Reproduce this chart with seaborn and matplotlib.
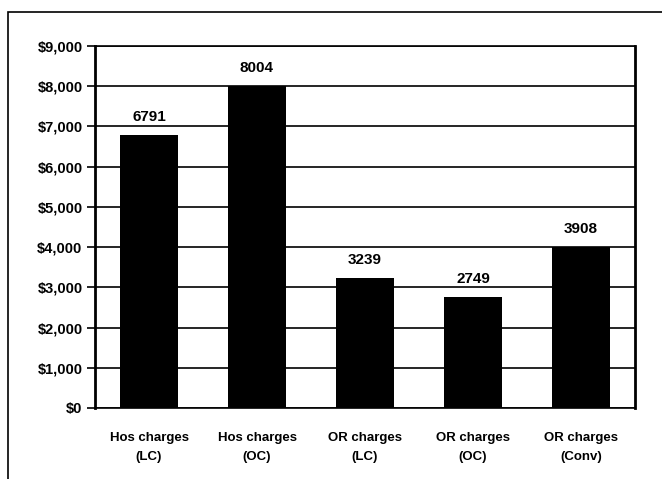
import matplotlib
matplotlib.use("Agg")
import matplotlib.pyplot as plt
import matplotlib.patches as patches
import seaborn as sns
import pandas as pd

categories = ["Hos charges\n(LC)", "Hos charges\n(OC)", "OR charges\n(LC)", "OR charges\n(OC)", "OR charges\n(Conv)"]
values = [6791, 8004, 3239, 2749, 4008]
value_labels = ["6791", "8004", "3239", "2749", "3908"]
yticks = [0, 1000, 2000, 3000, 4000, 5000, 6000, 7000, 8000, 9000]
ytick_labels = ["$0", "$1,000", "$2,000", "$3,000", "$4,000", "$5,000", "$6,000", "$7,000", "$8,000", "$9,000"]

sns.set_style("white")
plt.rcParams["font.family"] = ["Liberation Sans", "DejaVu Sans"]
plt.rcParams["text.color"] = "black"
plt.rcParams["xtick.color"] = "black"
plt.rcParams["ytick.color"] = "black"

df = pd.DataFrame({"cat": categories, "val": values})

fig = plt.figure(figsize=(6.62, 4.79), dpi=100)
ax = fig.add_axes([95/662, 1-408/479, (635-95)/662, (408-46)/479])

for t in yticks:
    ax.axhline(t, color="black", lw=1.2, zorder=0)

sns.barplot(data=df, x="cat", y="val", color="black", saturation=1, width=0.53,
            edgecolor="black", linewidth=0, ax=ax, zorder=2)

ax.set_xlim(-0.5, 4.5)
ax.set_ylim(0, 9000)
ax.set_yticks(yticks)
ax.set_yticklabels(ytick_labels, fontsize=10.5, fontweight="bold")
ax.set_xticks(range(len(categories)))
ax.set_xticklabels(categories, fontsize=9.5, fontweight="bold", linespacing=1.8)
ax.tick_params(axis="y", direction="out", length=6, width=1.2, color="black", pad=3, left=True)
ax.tick_params(axis="x", length=0, pad=17)
ax.set_xlabel("")
ax.set_ylabel("")

for s in ["top", "right", "bottom"]:
    ax.spines[s].set_visible(True)
    ax.spines[s].set_color("black")
    ax.spines[s].set_linewidth(1.2)
ax.spines["right"].set_linewidth(2)
ax.spines["left"].set_color("black")
ax.spines["left"].set_linewidth(2)

for i, (v, lab) in enumerate(zip(values, value_labels)):
    ax.annotate(lab, (i, v), xytext=(0, 8), textcoords="offset points",
                ha="center", va="bottom", fontsize=11, fontweight="bold")

fig.patches.append(patches.Rectangle((8/662, -0.1), 2, 1 - 12/479 + 0.1,
                                     transform=fig.transFigure, fill=False,
                                     lw=1.2, edgecolor="black"))

fig.savefig("out.png", dpi=100)
